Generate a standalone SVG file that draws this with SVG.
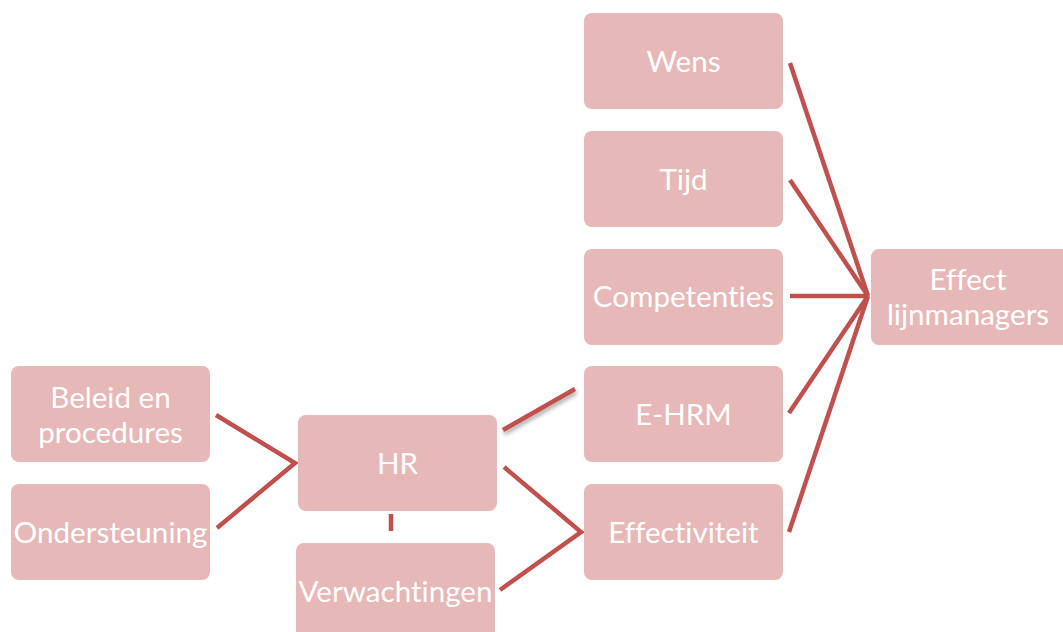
<svg xmlns="http://www.w3.org/2000/svg" width="1063" height="632" viewBox="0 0 1063 632">
  <defs>
    <style>
      .box { fill: #e6b8b7; }
      .lbl { fill: #ffffff; font-family: Lato, "Open Sans", "Liberation Sans", sans-serif; font-size: 29.6px; text-anchor: middle; dominant-baseline: central; font-variant-ligatures: none; }
      .link { stroke: #c0504d; stroke-width: 4.5; fill: none; stroke-linecap: butt; stroke-linejoin: miter; }
    </style>
    <filter id="shadow" x="-20%" y="-50%" width="140%" height="200%">
      <feDropShadow dx="1" dy="3" stdDeviation="2" flood-color="#000" flood-opacity="0.35"/>
    </filter>
  </defs>
  <rect width="1063" height="632" fill="#ffffff"/>

  <g id="connectors">
    <polyline class="link" points="216,415 295,463 217,528"/>
    <line class="link" x1="391" y1="514" x2="391" y2="531"/>
    <line class="link" x1="503" y1="430" x2="575" y2="389" filter="url(#shadow)"/>
    <polyline class="link" points="504,467 581,532 500,590"/>
    <line class="link" x1="790" y1="63" x2="868" y2="296"/>
    <line class="link" x1="790" y1="180" x2="868" y2="296"/>
    <line class="link" x1="790" y1="296" x2="868" y2="296"/>
    <line class="link" x1="789" y1="413" x2="868" y2="296"/>
    <line class="link" x1="789" y1="532" x2="868" y2="296"/>
  </g>

  <g id="wens">
    <rect class="box" x="584" y="13" width="199" height="96" rx="8"/>
    <text class="lbl" x="683.5" y="60">Wens</text>
  </g>
  <g id="tijd">
    <rect class="box" x="584" y="131" width="199" height="96" rx="8"/>
    <text class="lbl" x="683.5" y="178">Tijd</text>
  </g>
  <g id="competenties">
    <rect class="box" x="584" y="249" width="199" height="96" rx="8"/>
    <text class="lbl" x="683.5" y="295">Competenties</text>
  </g>
  <g id="ehrm">
    <rect class="box" x="584" y="366" width="199" height="96" rx="8"/>
    <text class="lbl" x="683.5" y="413">E-HRM</text>
  </g>
  <g id="effectiviteit">
    <rect class="box" x="584" y="484" width="199" height="96" rx="8"/>
    <text class="lbl" x="683.5" y="531">Effectiviteit</text>
  </g>
  <g id="effect-lijnmanagers">
    <rect class="box" x="871" y="249" width="199" height="96" rx="8"/>
    <text class="lbl" x="968" y="278">Effect</text>
    <text class="lbl" x="968" y="313">lijnmanagers</text>
  </g>
  <g id="beleid">
    <rect class="box" x="11" y="366" width="199" height="96" rx="8"/>
    <text class="lbl" x="110.5" y="396">Beleid en</text>
    <text class="lbl" x="110.5" y="431">procedures</text>
  </g>
  <g id="ondersteuning">
    <rect class="box" x="11" y="484" width="199" height="96" rx="8"/>
    <text class="lbl" x="110.5" y="531">Ondersteuning</text>
  </g>
  <g id="hr">
    <rect class="box" x="298" y="415" width="199" height="96" rx="8"/>
    <text class="lbl" x="397.5" y="462">HR</text>
  </g>
  <g id="verwachtingen">
    <rect class="box" x="296" y="543" width="199" height="96" rx="8"/>
    <text class="lbl" x="395.5" y="590">Verwachtingen</text>
  </g>
</svg>
